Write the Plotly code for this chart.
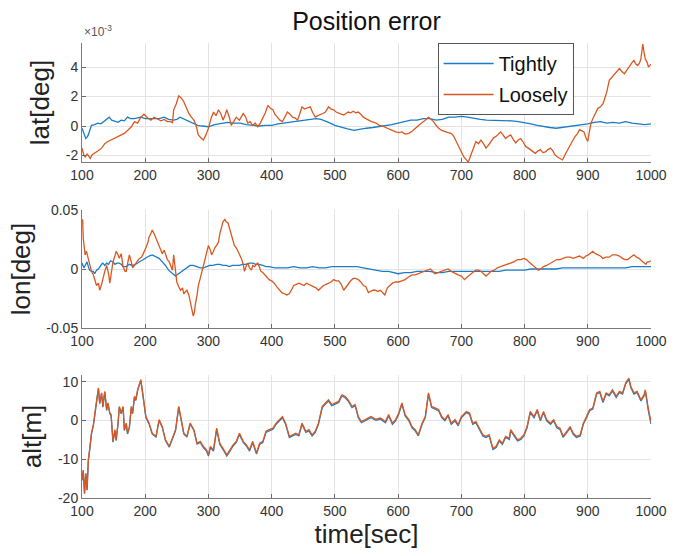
import plotly.graph_objects as go
from plotly.subplots import make_subplots

# ---------------- data ----------------
# latitude error, units of 1e-3 deg
t_lat_loose = [100,103,105,108,110,113,116,120,125,131,136,141,146,152,157,162,167,172,178,183,188,193,198,204,209,214,219,225,230,235,240,243,245,249,253,257,261,265,269,273,277,280,284,288,292,296,300,304,308,312,316,320,323,326,329,333,336,340,344,349,355,359,362,366,370,374,378,382,386,390,394,398,402,405,409,413,417,421,425,429,433,437,441,445,448,452,456,461,465,469,473,477,481,485,490,494,498,502,506,510,514,518,521,525,529,533,537,541,545,549,553,558,565,570,575,580,585,590,596,601,606,611,617,622,627,632,637,642,648,652,656,660,664,669,674,679,684,688,692,696,700,704,708,711,714,716,720,723,727,731,735,739,743,747,751,755,758,762,766,770,774,778,782,786,790,794,798,802,806,809,813,817,821,825,829,833,837,841,845,848,852,856,860,864,868,872,876,880,884,887,891,894,897,900,902,905,908,912,916,920,924,927,930,934,938,942,946,950,954,958,962,966,970,973,976,979,982,984,986,987,989,991,994,996,998,1000]
lat_loose = [-1.5,-2.0,-2.1,-1.9,-2.0,-2.2,-1.95,-1.85,-1.7,-1.5,-1.2,-1.05,-0.95,-0.85,-0.75,-0.6,-0.5,-0.3,-0.05,0.3,0.2,0.6,0.8,0.55,0.4,0.6,0.5,0.35,0.45,0.3,0.3,0.2,1.1,1.5,2.05,1.9,1.65,1.2,0.85,0.6,0.4,0.1,-0.6,-0.8,-0.95,-0.6,-0.15,0.5,0.95,0.7,1.1,0.8,0.4,0.7,1.1,0.6,0.05,0.3,0.6,0.4,0.85,0.6,0.2,0.3,0.05,0.2,-0.05,0.2,0.5,0.9,1.4,1.2,1.1,0.8,0.6,0.4,0.3,0.6,0.95,0.8,0.6,0.55,0.4,0.9,1.3,1.15,1.2,1.3,0.9,0.6,0.7,0.75,0.85,0.95,1.3,1.15,1.1,0.95,0.85,0.8,0.75,0.85,0.95,0.9,1.0,0.9,0.95,0.8,0.6,0.5,0.4,0.3,0.2,0.05,0.0,-0.1,-0.15,-0.3,-0.4,-0.45,-0.4,-0.55,-0.5,-0.35,-0.15,0.0,0.2,0.35,0.6,0.45,0.3,0.05,-0.15,-0.3,-0.4,-0.45,-0.5,-0.7,-1.05,-1.4,-1.85,-2.1,-2.3,-2.45,-2.1,-1.85,-1.4,-1.05,-1.2,-0.95,-1.2,-1.5,-1.3,-1.05,-0.8,-0.7,-0.55,-0.4,-0.6,-0.85,-0.7,-0.6,-0.9,-1.15,-0.95,-0.85,-1.1,-1.4,-1.5,-1.6,-1.75,-1.85,-1.7,-1.6,-1.8,-1.75,-1.6,-1.5,-1.7,-1.95,-2.1,-2.2,-2.3,-1.95,-1.6,-1.25,-1.0,-0.7,-0.5,-0.25,-0.35,-0.4,-0.8,-1.05,-0.5,0.2,0.5,0.8,1.2,1.3,1.5,1.9,2.3,3.1,3.3,3.55,3.7,3.9,3.7,3.55,3.8,4.1,4.3,4.45,4.2,4.1,4.3,4.55,5.1,5.55,5.0,4.55,4.3,4.0,4.1,4.2]

t_lat_tight = [100,103,106,108,110,113,115,120,125,130,135,140,143,147,152,157,162,167,172,177,183,188,193,200,209,215,222,230,237,245,250,255,260,265,270,277,283,290,300,310,320,330,340,350,360,370,380,390,400,410,420,430,440,450,460,470,478,485,490,500,510,520,530,540,550,560,570,580,590,600,610,620,630,640,650,660,670,680,690,700,710,720,730,740,750,760,770,780,790,800,810,820,830,840,850,860,870,880,890,900,910,920,930,940,950,960,970,980,990,1000]
lat_tight = [-0.15,-0.5,-0.85,-0.75,-0.6,-0.2,0.05,0.1,0.2,0.15,0.3,0.45,0.6,0.4,0.3,0.25,0.4,0.35,0.6,0.5,0.5,0.55,0.6,0.5,0.5,0.55,0.5,0.6,0.45,0.4,0.45,0.6,0.5,0.4,0.3,0.15,0.05,0.0,-0.05,0.1,0.15,0.25,0.2,0.2,0.1,0.05,0.0,0.05,0.05,0.15,0.2,0.25,0.3,0.4,0.4,0.5,0.45,0.35,0.25,0.05,-0.1,-0.2,-0.3,-0.25,-0.15,-0.1,-0.05,0.0,0.1,0.2,0.3,0.4,0.4,0.5,0.5,0.4,0.45,0.6,0.6,0.65,0.6,0.5,0.45,0.4,0.4,0.4,0.35,0.35,0.3,0.25,0.15,0.05,-0.05,-0.1,-0.15,-0.1,-0.05,0.0,0.05,0.15,0.25,0.3,0.2,0.25,0.2,0.3,0.2,0.15,0.1,0.15]

# longitude error, deg
t_lon_loose = [100,101,102,104,105,107,110,112,115,118,121,123,126,128,131,133,136,139,142,144,147,149,152,154,157,159,162,165,168,170,173,175,178,180,183,185,188,191,194,196,199,201,204,206,209,211,214,217,220,222,225,227,230,232,235,238,241,243,245,247,250,253,256,259,261,264,266,269,271,274,276,278,279,282,284,287,290,292,295,298,300,303,305,308,310,313,316,318,321,323,326,328,331,333,336,338,341,344,347,349,352,355,357,360,362,365,368,370,373,376,378,381,383,386,389,392,396,400,404,408,412,416,420,424,428,431,435,439,443,447,451,455,459,463,467,470,474,478,482,486,490,494,498,502,506,510,514,518,521,525,529,533,537,541,545,549,553,556,560,564,568,572,576,579,583,587,591,596,601,606,611,616,622,627,632,637,643,647,651,655,658,663,669,674,679,684,690,695,700,705,709,713,718,723,727,731,735,739,743,747,752,757,762,768,773,778,783,789,794,799,803,807,811,815,819,822,826,830,835,841,846,851,856,861,866,872,877,882,887,893,897,901,905,908,912,916,920,924,929,934,939,945,950,955,959,963,968,973,977,981,985,989,992,994,997,1000]
lon_loose = [0.040,0.042,0.026,0.016,0.012,0.015,0.008,0.003,-0.002,-0.005,-0.010,-0.014,-0.012,-0.018,-0.013,-0.008,-0.002,0.003,-0.004,-0.012,-0.002,0.006,0.011,0.015,0.012,0.009,0.013,0.002,-0.002,-0.002,0.007,0.012,0.006,0.001,0.003,0.005,0.007,0.009,0.010,0.012,0.015,0.018,0.022,0.027,0.030,0.033,0.030,0.026,0.022,0.018,0.015,0.013,0.016,0.012,0.008,0.006,0.002,-0.001,0.012,0.004,-0.011,-0.015,-0.018,-0.016,-0.021,-0.019,-0.018,-0.022,-0.028,-0.034,-0.040,-0.036,-0.031,-0.022,-0.014,-0.008,-0.002,0.003,0.008,0.015,0.020,0.016,0.012,0.015,0.018,0.020,0.023,0.030,0.037,0.040,0.042,0.040,0.039,0.035,0.029,0.024,0.020,0.018,0.015,0.012,0.009,0.004,-0.002,0.003,0.005,0.001,-0.001,0.003,0.002,0.004,0.005,0.001,-0.002,-0.003,-0.005,-0.007,-0.009,-0.010,-0.012,-0.015,-0.018,-0.020,-0.021,-0.022,-0.021,-0.018,-0.014,-0.013,-0.012,-0.013,-0.014,-0.012,-0.013,-0.014,-0.015,-0.016,-0.018,-0.016,-0.014,-0.013,-0.012,-0.011,-0.009,-0.010,-0.010,-0.013,-0.018,-0.015,-0.012,-0.010,-0.008,-0.008,-0.009,-0.011,-0.014,-0.015,-0.020,-0.019,-0.018,-0.018,-0.019,-0.018,-0.020,-0.022,-0.016,-0.014,-0.012,-0.011,-0.011,-0.010,-0.009,-0.007,-0.005,-0.005,-0.004,-0.003,-0.002,-0.001,0.000,-0.002,-0.004,-0.003,-0.002,-0.001,0.000,-0.002,-0.004,-0.005,-0.006,-0.009,-0.007,-0.005,-0.003,-0.001,-0.001,-0.002,-0.004,-0.006,-0.004,-0.002,-0.001,0.001,0.002,0.003,0.004,0.005,0.006,0.008,0.008,0.009,0.008,0.006,0.004,0.002,0.000,-0.001,0.000,0.002,0.003,0.005,0.007,0.008,0.008,0.009,0.010,0.010,0.009,0.010,0.011,0.009,0.011,0.012,0.014,0.015,0.013,0.012,0.011,0.009,0.010,0.010,0.012,0.012,0.011,0.009,0.008,0.008,0.010,0.012,0.010,0.009,0.007,0.005,0.004,0.006,0.006,0.007]

t_lon_tight = [100,103,105,108,110,112,115,118,120,123,126,128,131,133,136,139,142,145,149,152,155,159,162,165,170,175,180,185,191,196,201,206,211,215,218,222,227,232,237,241,245,248,250,255,261,266,271,276,282,287,292,297,302,307,313,318,323,328,333,338,344,349,354,359,365,370,375,380,386,391,396,405,415,425,435,445,455,465,475,485,495,505,515,525,535,545,555,565,575,585,595,600,610,620,630,640,650,660,670,680,690,700,710,720,730,740,750,760,770,780,790,800,810,820,830,840,850,860,870,880,890,900,910,920,930,940,950,960,970,980,990,1000]
lon_tight = [0.005,0.001,0.003,0.006,0.002,-0.001,-0.002,-0.002,-0.004,-0.001,0.000,0.002,0.004,0.005,0.003,0.005,0.004,0.007,0.006,0.004,0.005,0.005,0.004,0.002,0.002,0.004,0.003,0.004,0.006,0.008,0.009,0.011,0.012,0.011,0.010,0.009,0.006,0.003,-0.001,-0.003,-0.005,-0.006,-0.005,-0.003,-0.001,0.001,0.003,0.003,0.002,0.001,0.001,0.002,0.003,0.003,0.004,0.004,0.003,0.003,0.002,0.003,0.003,0.003,0.004,0.004,0.005,0.005,0.004,0.004,0.003,0.002,0.002,0.001,0.001,0.001,0.002,0.001,0.001,0.002,0.001,0.001,0.002,0.002,0.002,0.002,0.002,0.001,0.000,-0.001,-0.002,-0.002,-0.003,-0.004,-0.003,-0.003,-0.002,-0.002,-0.002,-0.003,-0.003,-0.002,-0.002,-0.002,-0.002,-0.002,-0.002,-0.002,-0.002,-0.002,-0.001,-0.001,-0.001,-0.001,0.000,0.000,0.000,0.000,0.000,0.001,0.001,0.001,0.001,0.001,0.001,0.001,0.001,0.001,0.001,0.001,0.002,0.002,0.002,0.002]

# altitude error, m
t_alt = [100,102,104,106,108,110,112,115,118,120,123,126,128,131,133,136,139,141,144,146,149,152,154,157,159,162,165,167,170,172,175,178,180,183,185,188,191,193,196,198,201,206,211,217,222,227,232,238,243,248,253,256,261,266,271,277,282,287,292,297,300,303,308,313,318,323,329,334,339,344,349,355,360,365,370,376,381,386,391,396,402,407,412,417,422,428,433,438,443,448,454,459,464,469,474,480,485,490,495,501,506,511,516,521,527,532,537,542,547,552,557,565,572,580,585,591,596,601,606,611,617,622,627,632,638,643,648,653,658,664,669,674,679,684,690,695,700,708,713,718,723,729,734,739,744,750,755,760,765,770,776,778,783,789,794,799,804,809,815,820,825,830,835,841,846,851,856,861,867,872,877,882,888,893,898,903,908,914,919,924,929,934,939,945,950,955,960,965,968,973,978,984,989,991,996,1000]
alt_loose = [-15.3,-12.8,-18.8,-13.6,-17.9,-10.2,-7.6,-3.3,-1.1,1.9,4.9,8.4,4.5,7.1,3.6,7.5,2.8,4.5,1.9,1.5,-5.4,-2.4,-5.0,-0.7,3.6,1.9,3.6,-2.4,-0.7,-3.3,-1.6,3.6,1.9,6.2,5.3,7.9,9.7,10.5,7.1,4.9,1.0,-0.7,-3.3,-4.1,0.2,-1.6,-5.0,-6.7,-4.6,-2.4,3.6,1.0,-3.3,-4.1,-0.7,-2.4,-5.9,-5.4,-6.7,-7.6,-8.9,-6.7,-7.6,-2.0,-5.9,-7.2,-8.9,-7.6,-6.3,-5.4,-3.3,-5.4,-6.3,-7.6,-5.4,-8.4,-5.9,-5.4,-2.8,-2.4,-2.0,-0.7,0.2,1.0,-0.7,-4.1,-3.7,-3.3,-3.7,-0.7,-2.8,-2.4,-3.7,-2.8,-0.7,3.6,4.5,5.3,4.1,4.5,4.9,6.6,6.2,5.3,3.6,4.1,1.0,-0.3,0.2,0.6,1.0,0.3,0.6,-0.3,1.5,-0.7,0.2,1.9,4.5,1.5,0.2,-1.6,-2.4,-3.7,-0.7,1.0,7.1,3.6,3.2,2.8,1.0,0.2,1.5,-0.7,0.2,-1.1,1.0,2.3,1.9,-0.7,-0.3,-2.4,-3.7,-4.1,-3.7,-7.2,-6.7,-5.0,-5.9,-4.1,-4.6,-2.4,-3.7,-5.0,-4.6,-3.7,-1.6,2.3,1.0,2.8,0.2,2.3,0.2,-0.7,0.2,-1.6,-2.0,-4.1,-2.8,-1.6,-3.3,-4.1,-3.7,-0.7,1.0,2.8,3.2,7.1,7.5,4.9,7.1,6.6,7.9,6.2,7.5,7.1,9.7,10.9,8.8,7.1,7.5,5.3,6.6,7.9,2.8,-0.3]
alt_tight = [-15.5,-13.0,-18.9,-13.8,-18.0,-10.4,-7.8,-3.5,-1.3,1.7,4.7,8.2,4.3,6.9,3.4,7.3,2.6,4.3,1.7,1.3,-5.6,-2.6,-5.2,-0.9,3.4,1.7,3.4,-2.6,-0.9,-3.5,-1.8,3.4,1.7,6.0,5.1,7.7,9.5,10.3,6.9,4.7,0.8,-0.9,-3.5,-4.3,0.0,-1.8,-5.2,-6.9,-4.8,-2.6,3.4,0.8,-3.5,-4.3,-0.9,-2.6,-6.1,-5.7,-7.0,-7.9,-9.2,-7.0,-7.9,-2.3,-6.2,-7.5,-9.2,-7.9,-6.6,-5.7,-3.6,-5.7,-6.6,-7.9,-5.7,-8.7,-6.2,-5.7,-3.1,-2.7,-2.3,-1.0,-0.1,0.7,-1.0,-4.4,-4.0,-3.6,-4.0,-1.0,-3.1,-2.7,-4.0,-3.1,-1.0,3.3,4.2,5.0,3.8,4.2,4.6,6.3,5.9,5.0,3.3,3.8,0.7,-0.6,-0.1,0.3,0.7,0.0,0.3,-0.6,1.2,-1.0,-0.1,1.6,4.2,1.2,-0.1,-1.9,-2.7,-4.0,-1.0,0.7,6.8,3.3,2.9,2.5,0.7,-0.1,1.2,-1.0,-0.1,-1.4,0.7,2.0,1.6,-1.0,-0.6,-2.7,-4.0,-4.4,-4.0,-7.5,-7.0,-5.3,-6.2,-4.4,-4.9,-2.7,-4.0,-5.3,-4.9,-4.0,-1.9,2.0,0.7,2.5,-0.1,2.0,-0.1,-1.0,-0.1,-1.9,-2.3,-4.4,-3.1,-1.9,-3.6,-4.4,-4.0,-1.0,0.7,2.5,2.9,6.8,7.2,4.6,6.8,6.3,7.6,5.9,7.2,6.8,9.4,10.6,8.5,6.8,7.2,5.0,6.3,7.6,2.3,-0.9]

x_ticks = [100, 200, 300, 400, 500, 600, 700, 800, 900, 1000]
lat_ticks = [-2, 0, 2, 4]
lon_ticks = [-0.05, 0, 0.05]
lon_tick_text = ["-0.05", "0", "0.05"]
alt_ticks = [-20, -10, 0, 10]

series_names = ["Tightly", "Loosely"]
BLUE = "#1a7cc6"
ORANGE = "#da5820"
FONT = "Liberation Sans, Arial, sans-serif"

# ---------------- figure ----------------
fig = make_subplots(rows=3, cols=1)

def add_pair(row, tt, yt, tl, yl, show):
    fig.add_trace(go.Scatter(x=tt, y=yt, mode="lines", name=series_names[0],
                             line=dict(color=BLUE, width=1.3), showlegend=show,
                             legendgroup="t"), row=row, col=1)
    fig.add_trace(go.Scatter(x=tl, y=yl, mode="lines", name=series_names[1],
                             line=dict(color=ORANGE, width=1.3), showlegend=show,
                             legendgroup="l"), row=row, col=1)

add_pair(1, t_lat_tight, lat_tight, t_lat_loose, lat_loose, True)
add_pair(2, t_lon_tight, lon_tight, t_lon_loose, lon_loose, False)
add_pair(3, t_alt, alt_tight, t_alt, alt_loose, False)

H_TOP, H_BOT = 43, 498
ph = H_BOT - H_TOP
def dom(top_px, bot_px):
    return [(H_BOT - bot_px) / ph, (H_BOT - top_px) / ph]

axis_common = dict(showgrid=True, gridcolor="#e3e3e3", gridwidth=1, zeroline=False,
                   showline=True, linecolor="#7a7a7a", linewidth=1, mirror=False,
                   ticks="inside", ticklen=4, tickcolor="#6a6a6a",
                   tickfont=dict(family=FONT, size=14, color="#333333"))

for i, (d, rng, tv, tt, title) in enumerate([
        (dom(43, 162), [-2.44, 5.63], lat_ticks, [str(v) for v in lat_ticks], "lat[deg]"),
        (dom(210, 328), [-0.05, 0.05], lon_ticks, lon_tick_text, "lon[deg]"),
        (dom(375, 498), [-20, 11.7], alt_ticks, [str(v) for v in alt_ticks], "alt[m]")], start=1):
    yk = "yaxis" if i == 1 else f"yaxis{i}"
    xk = "xaxis" if i == 1 else f"xaxis{i}"
    fig.update_layout(**{
        yk: dict(domain=d, range=rng, tickvals=tv, ticktext=tt,
                 title=dict(text=title, font=dict(family=FONT, size=26, color="#222222"), standoff=8),
                 **axis_common),
        xk: dict(domain=[0, 1], range=[100, 1000], tickvals=x_ticks,
                 ticktext=[str(v) for v in x_ticks], **axis_common),
    })

fig.update_layout(xaxis3_title=dict(text="time[sec]", font=dict(family=FONT, size=26, color="#222222"), standoff=4))

fig.update_layout(
    width=679, height=556,
    margin=dict(l=82, r=21, t=43, b=58),
    paper_bgcolor="white", plot_bgcolor="white",
    title=dict(text="Position error", x=0.5, xref="paper", y=0.962, yanchor="middle",
               font=dict(family=FONT, size=25, color="#111111")),
    legend=dict(x=0.625, y=1.0, xanchor="left", yanchor="top",
                bgcolor="white", bordercolor="#555555", borderwidth=1,
                font=dict(family=FONT, size=20, color="#111111"),
                itemwidth=50, tracegroupgap=2),
    annotations=[dict(text="×10<sup>-3</sup>", xref="paper", yref="paper",
                      x=0.0, y=1.0, xanchor="left", yanchor="bottom", yshift=2,
                      showarrow=False, font=dict(family=FONT, size=12, color="#555555"))],
)

fig.write_html("out.html")
